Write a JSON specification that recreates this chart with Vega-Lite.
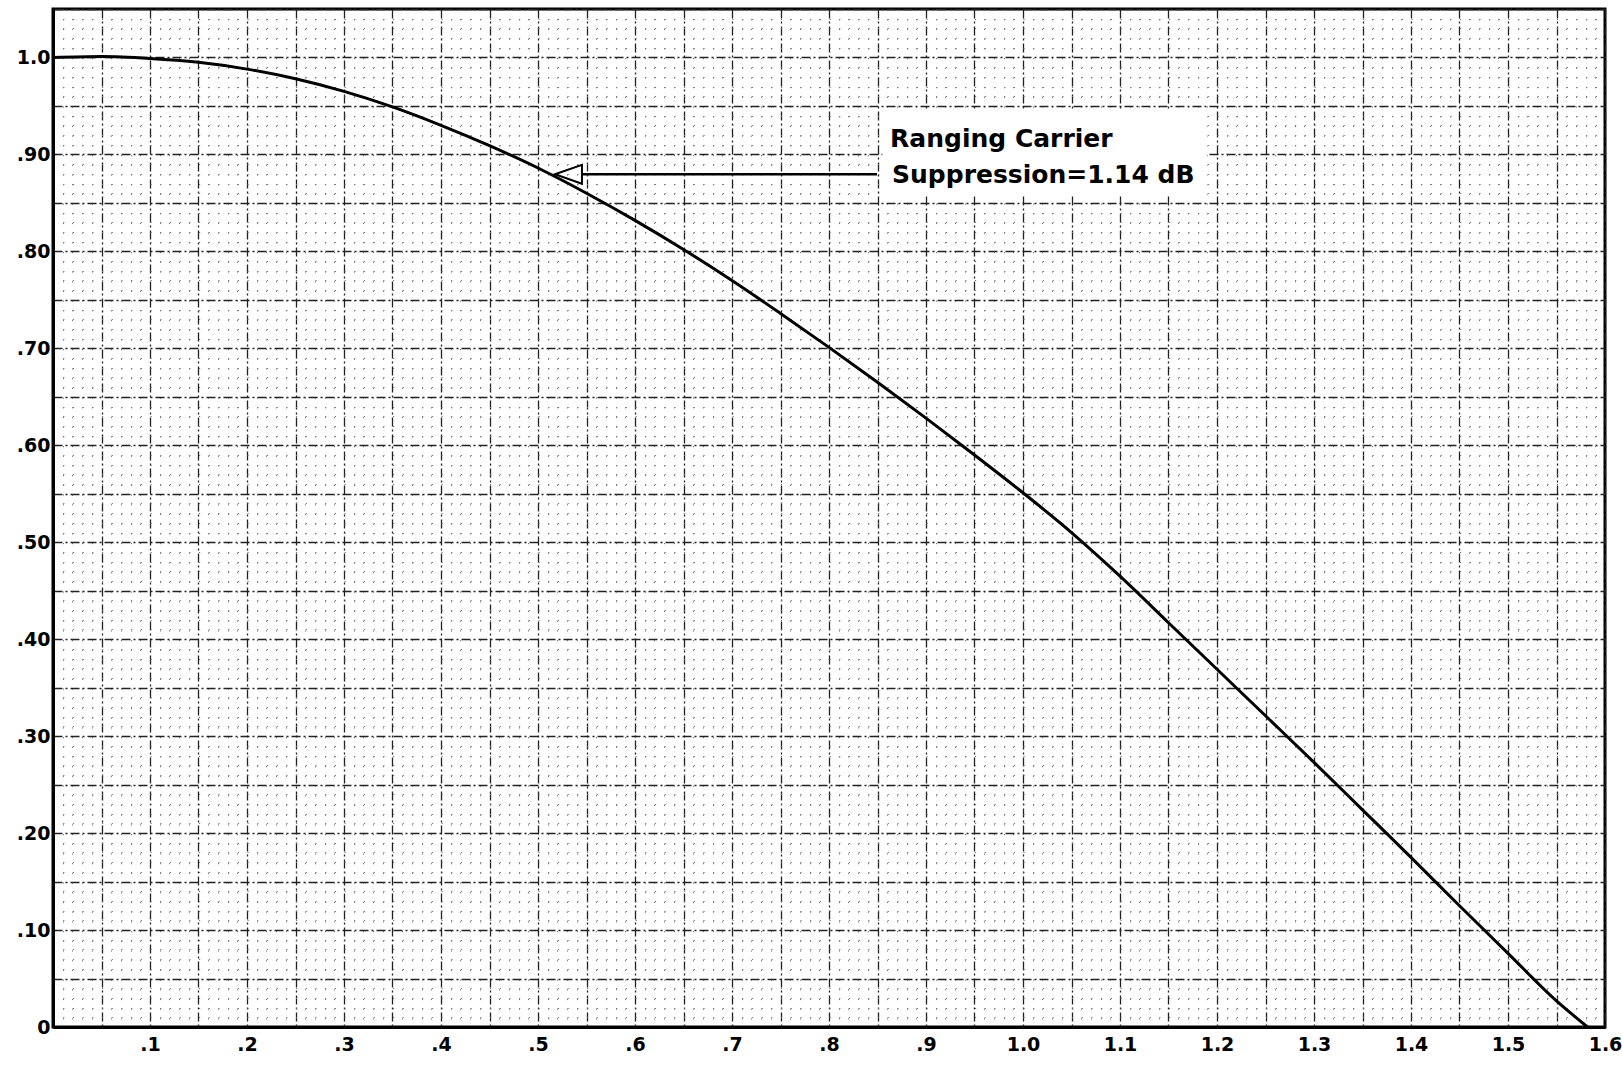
{
  "$schema": "https://vega.github.io/schema/vega-lite/v6.json",
  "autosize": {"type": "none"},
  "width": 1552,
  "height": 1018,
  "padding": {"left": 53, "top": 9, "right": 17, "bottom": 38},
  "background": "white",
  "config": {
    "view": {"stroke": "black", "strokeWidth": 3},
    "axis": {"labelFont": "DejaVu Sans", "labelFontWeight": "bold", "labelFontSize": 19, "labelColor": "black", "ticks": false, "labelOverlap": false, "labelFlush": false, "labelBound": false, "domainColor": "black", "domainWidth": 3, "title": null}
  },
  "datasets": {
    "curve": [
      {"x": 0, "y": 1.0}, {"x": 0.05, "y": 1.001}, {"x": 0.1, "y": 0.999}, {"x": 0.15, "y": 0.995},
      {"x": 0.2, "y": 0.988}, {"x": 0.25, "y": 0.978}, {"x": 0.3, "y": 0.965}, {"x": 0.35, "y": 0.949},
      {"x": 0.4, "y": 0.93}, {"x": 0.45, "y": 0.909}, {"x": 0.5, "y": 0.886}, {"x": 0.55, "y": 0.86},
      {"x": 0.6, "y": 0.832}, {"x": 0.65, "y": 0.802}, {"x": 0.7, "y": 0.77}, {"x": 0.75, "y": 0.736},
      {"x": 0.8, "y": 0.701}, {"x": 0.85, "y": 0.665}, {"x": 0.9, "y": 0.628}, {"x": 0.95, "y": 0.59},
      {"x": 1.0, "y": 0.551}, {"x": 1.05, "y": 0.51}, {"x": 1.1, "y": 0.465}, {"x": 1.15, "y": 0.417},
      {"x": 1.2, "y": 0.369}, {"x": 1.25, "y": 0.321}, {"x": 1.3, "y": 0.273}, {"x": 1.35, "y": 0.224},
      {"x": 1.4, "y": 0.175}, {"x": 1.45, "y": 0.125}, {"x": 1.5, "y": 0.076}, {"x": 1.55, "y": 0.027},
      {"x": 1.582, "y": 0}
    ],
    "box": [{"x": 0.855, "x2": 1.19, "y": 0.858, "y2": 0.945}],
    "arrow": [{"x": 0.545, "x2": 0.8495, "y": 0.8795}],
    "head": [{"x": 0.5314, "y": 0.8795}],
    "notes": [
      {"x": 0.863, "y": 0.9078, "label": "Ranging Carrier"},
      {"x": 0.865, "y": 0.8703, "label": "Suppression=1.14 dB"}
    ]
  },
  "encoding": {
    "x": {
      "field": "x", "type": "quantitative",
      "scale": {"domain": [0, 1.6], "nice": false, "zero": false},
      "axis": {
        "tickCount": 160,
        "labelPadding": 8,
        "grid": true,
        "gridColor": {"condition": {"test": "abs(datum.value*20-round(datum.value*20))<0.001", "value": "#222222"}, "value": "#777777"},
        "gridDash": {"condition": {"test": "abs(datum.value*20-round(datum.value*20))<0.001", "value": [9, 3, 2, 3]}, "value": [1.2, 8.5]},
        "gridWidth": {"condition": {"test": "abs(datum.value*20-round(datum.value*20))<0.001", "value": 1.3}, "value": 1},
        "gridOpacity": 1,
        "labelExpr": "(abs(datum.value*10-round(datum.value*10))>0.001 || datum.value==0) ? '' : (datum.value<0.999 ? '.' + round(datum.value*10) : format(datum.value, '.1f'))"
      }
    },
    "y": {
      "field": "y", "type": "quantitative",
      "scale": {"domain": [0, 1.05], "nice": false, "zero": false},
      "axis": {
        "tickCount": 105,
        "labelPadding": 3,
        "grid": true,
        "gridColor": {"condition": {"test": "abs(datum.value*20-round(datum.value*20))<0.001", "value": "#222222"}, "value": "#777777"},
        "gridDash": {"condition": {"test": "abs(datum.value*20-round(datum.value*20))<0.001", "value": [9, 3, 2, 3]}, "value": [1.2, 8.5]},
        "gridWidth": {"condition": {"test": "abs(datum.value*20-round(datum.value*20))<0.001", "value": 1.3}, "value": 1},
        "gridOpacity": 1,
        "labelExpr": "abs(datum.value*10-round(datum.value*10))>0.001 ? '' : (datum.value==0 ? '0' : (datum.value>0.999 ? '1.0' : '.' + round(datum.value*10) + '0'))"
      }
    }
  },
  "layer": [
    {
      "data": {"name": "box"},
      "mark": {"type": "rect", "fill": "white", "stroke": null},
      "encoding": {"x2": {"field": "x2"}, "y2": {"field": "y2"}}
    },
    {
      "data": {"name": "curve"},
      "mark": {"type": "line", "color": "black", "strokeWidth": 3, "interpolate": "monotone"},
      "encoding": {}
    },
    {
      "data": {"name": "arrow"},
      "mark": {"type": "rule", "color": "black", "strokeWidth": 2.5},
      "encoding": {"x2": {"field": "x2"}}
    },
    {
      "data": {"name": "head"},
      "mark": {"type": "point", "shape": "M-1,0L1,-0.7L1,0.7Z", "size": 729, "filled": false, "stroke": "black", "strokeWidth": 2, "opacity": 1},
      "encoding": {}
    },
    {
      "data": {"name": "notes"},
      "mark": {"type": "text", "align": "left", "baseline": "alphabetic", "font": "DejaVu Sans", "fontWeight": "bold", "fontSize": 25, "color": "black"},
      "encoding": {"text": {"field": "label"}}
    }
  ]
}
